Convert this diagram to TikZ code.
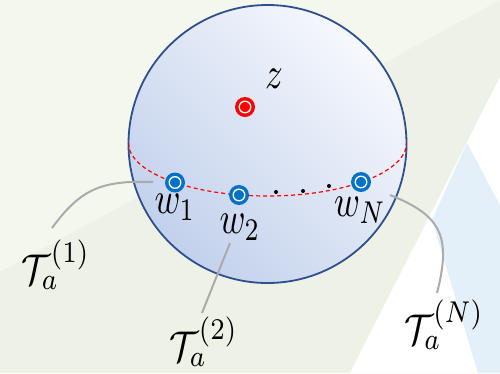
\documentclass[tikz,border=0pt]{standalone}
\definecolor{bgA}{HTML}{F4F7EE}
\definecolor{bgB}{HTML}{EEF2E6}
\definecolor{bluebg}{HTML}{E3F0F9}
\definecolor{sphTop}{HTML}{F6F8FD}
\definecolor{sphBot}{HTML}{C2D1EC}
\definecolor{sphEdge}{HTML}{2E4E8E}
\definecolor{mblue}{HTML}{0072C6}
\definecolor{leadc}{HTML}{ABABAB}
\newcommand{\smlbl}[1]{\scalebox{3.5}[4.5]{#1}}
\newcommand{\bglbl}[1]{\scalebox{3.65}[4.3]{#1}}
\begin{document}
\begin{tikzpicture}[x=1pt,y=1pt,
  bmark/.style={circle, fill=mblue, minimum size=20pt, inner sep=0pt,
    path picture={\draw[white, line width=1.3pt] (path picture bounding box.center) circle (5.8pt);}},
  rmark/.style={circle, fill=red, minimum size=20pt, inner sep=0pt,
    path picture={\draw[white, line width=1.3pt] (path picture bounding box.center) circle (5.8pt);}},
  dotnode/.style={circle, fill=black, minimum size=4pt, inner sep=0pt},
  lbl/.style={inner sep=0pt},
  leader/.style={draw=leadc, line width=2pt}]
\useasboundingbox (0,0) rectangle (500,-373);
% background
\fill[bgA] (0,0) rectangle (500,-373);
\fill[bgB] (0,-272) -- (500,0) -- (500,-373) -- (0,-373) -- cycle;
\fill[white] (500,-77) -- (350,-373) -- (500,-373) -- cycle;
\fill[bluebg] (467,-143) -- (432,-220) -- (478,-373) -- (500,-373) -- (500,-205) -- cycle;
% sphere
\node[circle, minimum size=278pt, inner sep=0pt, draw=sphEdge, line width=1.8pt,
  top color=sphTop, bottom color=sphBot, shading angle=-45] (sphere) at (267.5,-144) {};
% equator
\draw[red, dash pattern=on 4pt off 3pt, line width=1.2pt]
  (128.5,-143) arc[start angle=180, end angle=360, x radius=139, y radius=53];
% markers
\node[rmark] (zm) at (245,-107) {};
\node[bmark] (w1m) at (175,-182.5) {};
\node[bmark] (w2m) at (239,-195) {};
\node[bmark] (wNm) at (361,-182) {};
\node[dotnode] (d1) at (276,-192) {};
\node[dotnode] (d2) at (303,-191) {};
\node[dotnode] (d3) at (329,-186) {};
% labels
\node[lbl] (zl) at (274,-79) {\smlbl{$z$}};
\node[lbl] (w1l) at (175,-207) {\smlbl{$w_1$}};
\node[lbl] (w2l) at (240,-227) {\smlbl{$w_2$}};
\node[lbl] (wNl) at (360,-210) {\smlbl{$w_N$}};
\node[lbl] (T1) at (56,-265) {\bglbl{$\mathcal{T}_a^{(1)}$}};
\node[lbl] (T2) at (204,-342) {\bglbl{$\mathcal{T}_a^{(2)}$}};
\node[lbl] (TN) at (444,-325) {\bglbl{$\mathcal{T}_a^{(N)}$}};
% leaders
\coordinate (t1a) at (52,-228);
\coordinate (t1b) at (153,-182);
\coordinate (t2a) at (202,-313);
\coordinate (t2b) at (230,-243);
\coordinate (tNa) at (437,-293);
\coordinate (tNb) at (390,-195);
\draw[leader] (t1a) .. controls (80,-190) and (100,-180) .. (t1b);
\draw[leader] (t2a) -- (t2b);
\draw[leader] (tNa) .. controls (452,-235) and (440,-215) .. (tNb);
\end{tikzpicture}
\end{document}
